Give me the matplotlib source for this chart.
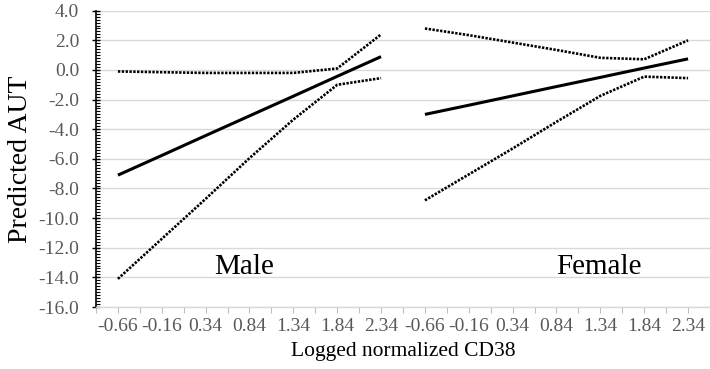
import matplotlib.pyplot as plt
import numpy as np

plt.rcParams['font.family'] = ['Liberation Serif', 'DejaVu Serif']

cd38 = ["-0.66", "-0.16", "0.34", "0.84", "1.34", "1.84", "2.34"]

male_pred = [-7.1, -5.77, -4.43, -3.1, -1.77, -0.43, 0.9]
male_upper = [-0.1, -0.15, -0.2, -0.2, -0.2, 0.1, 2.4]
male_lower = [-14.1, -11.4, -8.7, -5.95, -3.35, -1.0, -0.55]

female_pred = [-3.0, -2.38, -1.75, -1.12, -0.5, 0.13, 0.75]
female_upper = [2.8, 2.35, 1.85, 1.35, 0.82, 0.72, 2.0]
female_lower = [-8.8, -7.05, -5.3, -3.5, -1.75, -0.45, -0.55]

fig = plt.figure(figsize=(7.1, 3.69), dpi=100)
ax = fig.add_axes([0.1352, 0.168, 0.8648, 0.803])

n = len(cd38)
x_m = np.arange(n)
x_f = np.arange(n, 2 * n)

# round-ish dots like Excel's "round dot" dash
dot = (0, (0.9, 0.55))
for xs, pred, up, lo in [(x_m, male_pred, male_upper, male_lower),
                         (x_f, female_pred, female_upper, female_lower)]:
    ax.plot(xs, pred, color='black', lw=2.2, solid_capstyle='butt')
    ax.plot(xs, up, color='black', lw=1.9, linestyle=dot, dash_capstyle='butt')
    ax.plot(xs, lo, color='black', lw=1.9, linestyle=dot, dash_capstyle='butt')

ax.text(2.87, -13.3, "Male", fontsize=21, ha='center', va='center')
ax.text(10.96, -13.3, "Female", fontsize=21, ha='center', va='center')

ax.set_xlim(-0.5, 2 * n - 0.5)
ax.set_ylim(-16, 4)

# y axis: black spine with major + minor ticks
ax.set_yticks(np.arange(-16, 4.1, 2))
ax.set_yticklabels([f"{v:.1f}" for v in np.arange(-16, 4.1, 2)])
ax.set_yticks(np.arange(-16, 4.01, 0.2), minor=True)
ax.tick_params(axis='y', which='major', direction='inout', length=6, width=1,
               labelsize=14, labelcolor='#595959', pad=9)
ax.tick_params(axis='y', which='minor', direction='in', length=3, width=0.8)
ax.grid(axis='y', which='major', color='#d9d9d9', lw=1)
ax.set_axisbelow(True)

# x axis: gray baseline, ticks at every half category
ax.set_xticks(np.arange(2 * n))
ax.set_xticklabels(cd38 + cd38)
ax.set_xticks(np.arange(-0.5, 2 * n, 1.0), minor=True)
ax.tick_params(axis='x', which='both', direction='out', length=4, width=0.8,
               color='#bfbfbf', labelsize=14, labelcolor='#595959', pad=4)

for s in ['top', 'right']:
    ax.spines[s].set_visible(False)
ax.spines['left'].set_color('black')
ax.spines['left'].set_linewidth(1.2)
ax.spines['bottom'].set_color('#d9d9d9')
ax.spines['bottom'].set_linewidth(1)

ax.set_ylabel("Predicted AUT", fontsize=20, labelpad=4)
ax.set_xlabel("Logged normalized CD38", fontsize=15.5, labelpad=5)

fig.savefig("out.png", dpi=100)
